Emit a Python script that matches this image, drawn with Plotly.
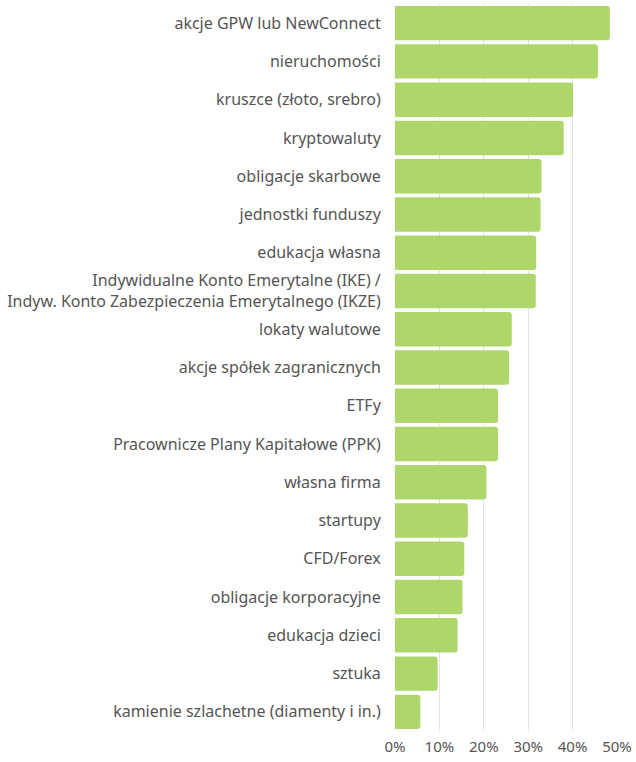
import plotly.graph_objects as go

categories = [
    "akcje GPW lub NewConnect",
    "nieruchomości",
    "kruszce (złoto, srebro)",
    "kryptowaluty",
    "obligacje skarbowe",
    "jednostki funduszy",
    "edukacja własna",
    "Indywidualne Konto Emerytalne (IKE) /<br>Indyw. Konto Zabezpieczenia Emerytalnego (IKZE)",
    "lokaty walutowe",
    "akcje spółek zagranicznych",
    "ETFy",
    "Pracownicze Plany Kapitałowe (PPK)",
    "własna firma",
    "startupy",
    "CFD/Forex",
    "obligacje korporacyjne",
    "edukacja dzieci",
    "sztuka",
    "kamienie szlachetne (diamenty i in.)",
]
values = [48.4, 45.7, 40.1, 38.0, 33.0, 32.8, 31.8, 31.7, 26.3, 25.7,
          23.2, 23.2, 20.6, 16.4, 15.6, 15.2, 14.1, 9.6, 5.7]
x_ticks = [0, 10, 20, 30, 40, 50]
x_tick_labels = ["0%", "10%", "20%", "30%", "40%", "50%"]

fig = go.Figure(go.Bar(
    x=values,
    y=categories,
    orientation="h",
    marker=dict(color="#aed66a", line=dict(width=0), cornerradius=3),
    hoverinfo="skip",
))

fig.update_layout(
    width=636, height=762,
    margin=dict(l=395, r=19, t=4, b=31, autoexpand=False),
    paper_bgcolor="white", plot_bgcolor="white",
    font=dict(family="Noto Sans", size=16, color="#555555"),
    bargap=0.1,
    showlegend=False,
)
fig.update_xaxes(
    range=[0, 50], tickvals=x_ticks, ticktext=x_tick_labels,
    showgrid=True, gridcolor="#e3e3e3", gridwidth=1,
    zeroline=False, showline=False, automargin=False,
    ticks="outside", ticklen=2, tickcolor="rgba(0,0,0,0)",
    tickfont=dict(size=15, color="#555555"),
)
fig.update_yaxes(
    autorange="reversed", showgrid=False, zeroline=False, showline=False,
    automargin=False,
    ticks="outside", ticklen=10, tickcolor="rgba(0,0,0,0)",
    tickfont=dict(size=16, color="#555555"),
)

fig.write_html(
    "out.html",
    config={"displayModeBar": False, "staticPlot": True},
    post_script="document.body.style.margin='0';document.body.style.overflow='hidden';",
)
